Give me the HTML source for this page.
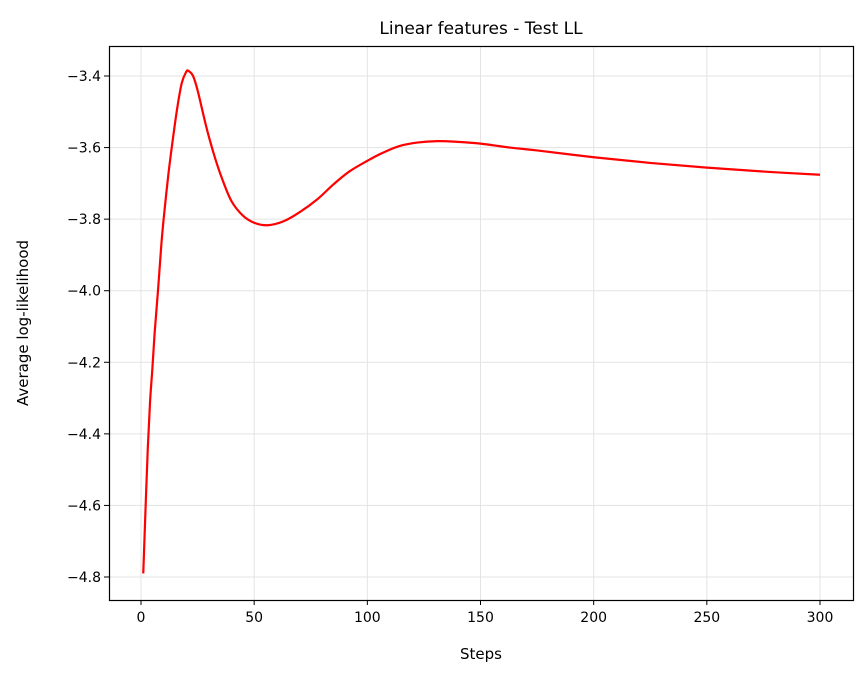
<!DOCTYPE html>
<html><head><meta charset="utf-8"><style>
body{margin:0;background:#fff;}
svg text{font-family:"DejaVu Sans","Liberation Sans",sans-serif;fill:#000;}
</style></head><body>
<svg width="868" height="678" viewBox="0 0 868 678">
<text x="481" y="34" font-size="17" text-anchor="middle">Linear features - Test LL</text>
<g id="grid"></g>
<g id="xt"></g><g id="yt"></g>
<path id="line" fill="none" stroke="#ff0000" stroke-width="2.2" stroke-linejoin="round"/>
<rect x="109.5" y="46.5" width="744" height="554" fill="none" stroke="#000" stroke-width="1.2"/>
<text x="481" y="659" font-size="15" text-anchor="middle">Steps</text>
<text transform="translate(28,323) rotate(-90)" font-size="15" text-anchor="middle">Average log-likelihood</text>
</svg>
<script>
const steps=[1,2,3,4,5,6,7.5,9,10,12,14,16,18,20,21,23,25,28,30,33,36,40,45,50,56,63,70,78,85,92,100,107,114,122,131,140,150,163,175,200,225,250,275,300];
const ll=[-4.79,-4.61,-4.44,-4.31,-4.22,-4.12,-4.0,-3.87,-3.80,-3.68,-3.58,-3.49,-3.42,-3.388,-3.386,-3.40,-3.44,-3.52,-3.57,-3.635,-3.69,-3.75,-3.79,-3.81,-3.817,-3.806,-3.781,-3.744,-3.703,-3.667,-3.637,-3.614,-3.596,-3.586,-3.582,-3.584,-3.589,-3.60,-3.608,-3.627,-3.643,-3.656,-3.667,-3.676];
const xTicks=[0,50,100,150,200,250,300];
const yTicks=[-4.8,-4.6,-4.4,-4.2,-4.0,-3.8,-3.6,-3.4];
const X=v=>141+v*(820-141)/300;
const Y=v=>76+(v+3.4)*(577-76)/(-1.4);
const NS="http://www.w3.org/2000/svg";
const grid=document.getElementById('grid'),xt=document.getElementById('xt'),yt=document.getElementById('yt');
function mk(tag,attrs,parent){const e=document.createElementNS(NS,tag);for(const k in attrs)e.setAttribute(k,attrs[k]);parent.appendChild(e);return e;}
xTicks.forEach(t=>{const x=X(t);
 const g=mk('line',{x1:x,x2:x,y1:46,y2:600,stroke:'#e3e3e3','stroke-width':1},grid);
 
 
 mk('line',{x1:x,x2:x,y1:600,y2:605,stroke:'#000'},xt);
 const tx=mk('text',{x:x,y:622,'font-size':14,'text-anchor':'middle'},xt);tx.textContent=t;
 
 
});
yTicks.forEach(t=>{const y=Y(t);
 const g=mk('line',{x1:109,x2:853,y1:y,y2:y,stroke:'#e3e3e3','stroke-width':1},grid);
 
 
 mk('line',{x1:104,x2:109,y1:y,y2:y,stroke:'#000'},yt);
 const tx=mk('text',{x:101,y:y+5,'font-size':14,'text-anchor':'end'},yt);tx.textContent='\u2212'+Math.abs(t).toFixed(1);
 
 
});
const P=steps.map((s,i)=>[X(s),Y(ll[i])]);
let d='M'+P[0][0]+','+P[0][1];
for(let i=0;i<P.length-1;i++){
 const p0=P[Math.max(0,i-1)],p1=P[i],p2=P[i+1],p3=P[Math.min(P.length-1,i+2)];
 const c1=[p1[0]+(p2[0]-p0[0])/6,p1[1]+(p2[1]-p0[1])/6];
 const c2=[p2[0]-(p3[0]-p1[0])/6,p2[1]-(p3[1]-p1[1])/6];
 d+=' C'+c1+' '+c2+' '+p2;
}
document.getElementById('line').setAttribute('d',d);
</script>
</body></html>
